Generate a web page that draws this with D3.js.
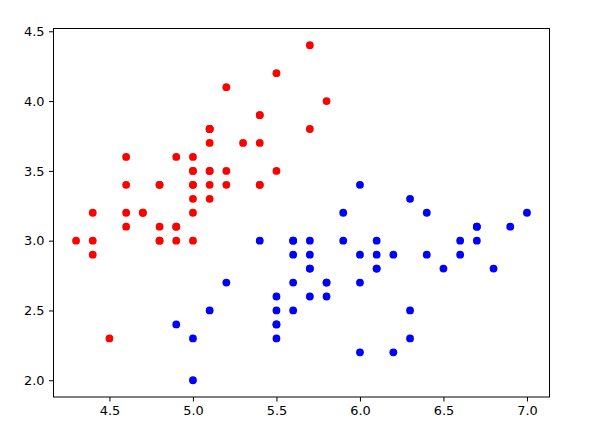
<!DOCTYPE html>
<html><head><meta charset="utf-8">
<script src="https://cdn.jsdelivr.net/npm/d3@7"></script>
<style>body{margin:0;background:#fff}svg{display:block}</style>
</head><body><svg id="c" width="596" height="429"></svg>
<script>
const setosaX=[5.1,4.9,4.7,4.6,5.0,5.4,4.6,5.0,4.4,4.9,5.4,4.8,4.8,4.3,5.8,5.7,5.4,5.1,5.7,5.1,5.4,5.1,4.6,5.1,4.8,5.0,5.0,5.2,5.2,4.7,4.8,5.4,5.2,5.5,4.9,5.0,5.5,4.9,4.4,5.1,5.0,4.5,4.4,5.0,5.1,4.8,5.1,4.6,5.3,5.0];
const setosaY=[3.5,3.0,3.2,3.1,3.6,3.9,3.4,3.4,2.9,3.1,3.7,3.4,3.0,3.0,4.0,4.4,3.9,3.5,3.8,3.8,3.4,3.7,3.6,3.3,3.4,3.0,3.4,3.5,3.4,3.2,3.1,3.4,4.1,4.2,3.1,3.2,3.5,3.6,3.0,3.4,3.5,2.3,3.2,3.5,3.8,3.0,3.8,3.2,3.7,3.3];
const versiX=[7.0,6.4,6.9,5.5,6.5,5.7,6.3,4.9,6.6,5.2,5.0,5.9,6.0,6.1,5.6,6.7,5.6,5.8,6.2,5.6,5.9,6.1,6.3,6.1,6.4,6.6,6.8,6.7,6.0,5.7,5.5,5.5,5.8,6.0,5.4,6.0,6.7,6.3,5.6,5.5,5.5,6.1,5.8,5.0,5.6,5.7,5.7,6.2,5.1,5.7];
const versiY=[3.2,3.2,3.1,2.3,2.8,2.8,3.3,2.4,2.9,2.7,2.0,3.0,2.2,2.9,2.9,3.1,3.0,2.7,2.2,2.5,3.2,2.8,2.5,2.8,2.9,3.0,2.8,3.0,2.9,2.6,2.4,2.4,2.7,2.7,3.0,3.4,3.1,2.3,3.0,2.5,2.6,3.0,2.6,2.3,2.7,3.0,2.9,2.9,2.5,2.8];
const xTicks=[4.5,5.0,5.5,6.0,6.5,7.0];
const yTicks=[2.0,2.5,3.0,3.5,4.0,4.5];

const L=53.5,R=549.5,T=28.5,B=397;
const x=d3.scaleLinear().domain([4.165,7.135]).range([L,R]);
const y=d3.scaleLinear().domain([1.88,4.52]).range([B,T]);
const svg=d3.select("#c");
const fmt=d3.format(".1f");
const font="DejaVu Sans, sans-serif";

function series(xs,ys,color){
  svg.append("g").selectAll("circle").data(xs.map((v,i)=>[v,ys[i]])).join("circle")
    .attr("cx",d=>x(d[0])).attr("cy",d=>y(d[1])).attr("r",3.9).attr("fill",color);
}
series(setosaX,setosaY,"#ff0000");
series(versiX,versiY,"#0000ff");

const gx=svg.append("g").attr("transform",`translate(0,${B})`)
  .call(d3.axisBottom(x).tickValues(xTicks).tickFormat(fmt).tickSize(4.5).tickPadding(4.5));
const gy=svg.append("g").attr("transform",`translate(${L},0)`)
  .call(d3.axisLeft(y).tickValues(yTicks).tickFormat(fmt).tickSize(4.5).tickPadding(4.5));
[gx,gy].forEach(g=>{
  g.select(".domain").remove();
  g.selectAll("text").attr("font-family",font).attr("font-size",12.9).attr("fill","#000");
  g.selectAll("line").attr("stroke","#000").attr("stroke-width",1);
});
svg.append("rect").attr("x",L).attr("y",T).attr("width",R-L).attr("height",B-T)
  .attr("fill","none").attr("stroke","#000").attr("stroke-width",1);
</script></body></html>
